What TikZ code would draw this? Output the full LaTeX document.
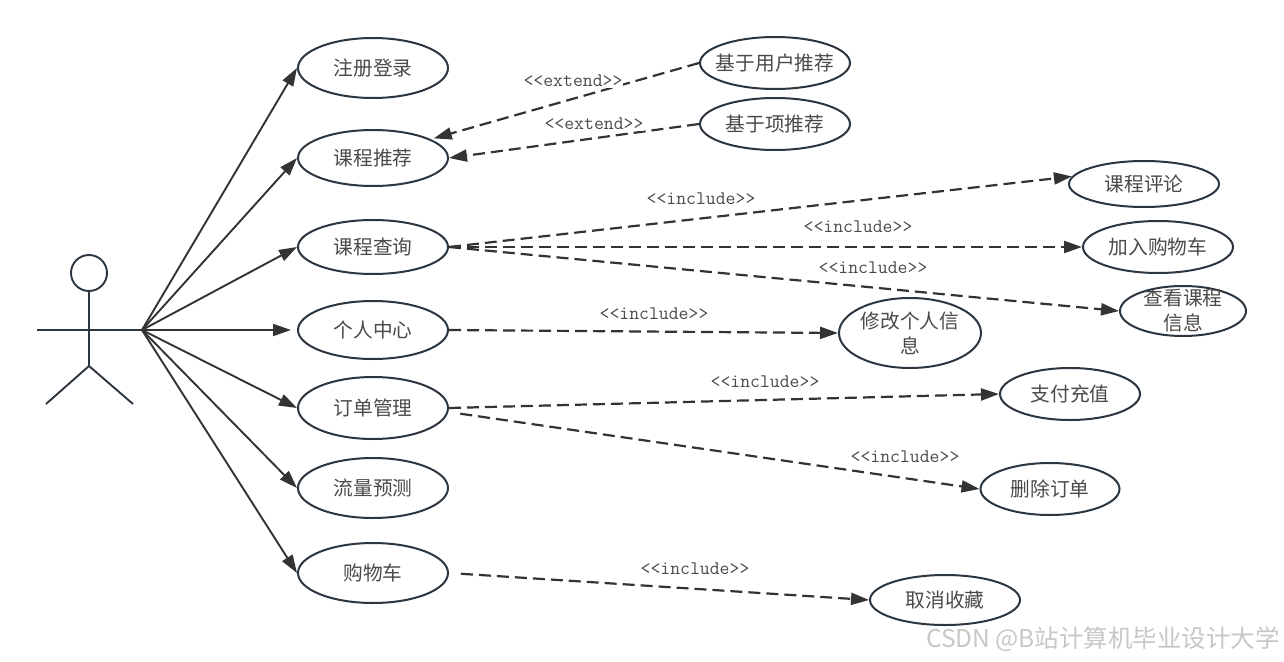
\documentclass[tikz,border=0pt]{standalone}
\usepackage{fontspec}
\usetikzlibrary{arrows.meta,shapes.geometric}
\newfontfamily\cjk{Noto Sans CJK SC}
\definecolor{inkline}{HTML}{2B3640}
\definecolor{arrowink}{HTML}{333333}
\definecolor{labelink}{HTML}{4A4A4A}
\tikzset{
  usecase/.style={ellipse,draw=inkline,line width=2pt,fill=white,inner sep=0pt,minimum width=#1,text=labelink,align=center,font=\cjk\fontsize{19.7}{25}\selectfont},
  assoc/.style={draw=arrowink,line width=1.9pt,-{Triangle[length=18pt,width=12pt]},shorten >=0pt},
  depend/.style={assoc,line width=2.2pt,dash pattern=on 12pt off 6pt},
  stereo/.style={font=\ttfamily\fontsize{19.2}{20}\selectfont,text=labelink,fill=white,inner sep=1pt},
  limb/.style={draw=inkline,line width=1.9pt},
}
\begin{document}
\begin{tikzpicture}[x=1pt,y=-1pt]
\useasboundingbox (0,0) rectangle (1284,661);
% actor
\node[circle,draw=inkline,line width=1.9pt,minimum size=36pt,inner sep=0pt] (head) at (89,273) {};
\coordinate (armL) at (37,330);
\coordinate (hub) at (142,330);
\coordinate (hip) at (89,366);
\coordinate (footL) at (46,404);
\coordinate (footR) at (133,404);
\draw[limb] (head.south) -- (hip);
\draw[limb] (armL) -- (hub);
\draw[limb] (footL) -- (hip) -- (footR);
% use cases
\node[usecase=150pt,minimum height=60pt] (a1) at (373,68) {注册登录};
\node[usecase=150pt,minimum height=56pt] (a2) at (373,158) {课程推荐};
\node[usecase=150pt,minimum height=54pt] (a3) at (373,247) {课程查询};
\node[usecase=150pt,minimum height=58pt] (a4) at (373,330) {个人中心};
\node[usecase=150pt,minimum height=62pt] (a5) at (373,408) {订单管理};
\node[usecase=150pt,minimum height=60pt] (a6) at (373,488) {流量预测};
\node[usecase=150pt,minimum height=60pt] (a7) at (373,573) {购物车};
\node[usecase=150pt,minimum height=52pt] (b1) at (775,63) {\makebox[100pt][c]{基于用户推荐}};
\node[usecase=150pt,minimum height=52pt] (b2) at (775,124) {基于项推荐};
\node[usecase=150pt,minimum height=46pt] (c1) at (1144,184) {课程评论};
\node[usecase=150pt,minimum height=52pt] (c2) at (1158,247) {加入购物车};
\node[usecase=126pt,minimum height=50pt] (c3) at (1183,311) {\smash{\raisebox{-5pt}{\parbox{80pt}{\centering 查看课程\\信息}}}};
\node[usecase=142pt,minimum height=70pt,text width=100pt] (d1) at (910,333) {修改个人信\\息};
\node[usecase=140pt,minimum height=52pt] (e1) at (1070,394) {支付充值};
\node[usecase=139pt,minimum height=52pt] (e2) at (1050,489) {删除订单};
\node[usecase=150pt,minimum height=50pt] (f1) at (945,600) {取消收藏};
% actor associations
\draw[assoc] (hub) -- (a1.west);
\draw[assoc] (hub) -- (a2.west);
\draw[assoc] (hub) -- (a3.west);
\draw[assoc,shorten >=6pt] (hub) -- (a4.west);
\draw[assoc] (hub) -- (a5.west);
\draw[assoc] (hub) -- (a6.west);
\draw[assoc] (hub) -- (a7.west);
% dependencies
\draw[depend,shorten >=3pt] (b1.west) -- (a2.18);
\draw[depend] (b2.west) -- (a2.east);
\draw[depend] (a3.east) -- (c1.174);
\draw[depend] (a3.east) -- (c2.west);
\draw[depend] (a3.east) -- (c3.west);
\draw[depend] (a4.east) -- (d1.west);
\draw[depend] (a5.east) -- (e1.west);
\draw[depend,shorten <=12pt] (a5.-3) -- (e2.west);
\draw[depend,shorten <=12pt] (a7.east) -- (f1.west);
% labels
\node[stereo] (l1) at (573,81) {<<extend>>};
\node[stereo] (l2) at (594,124) {<<extend>>};
\node[stereo] (l3) at (701,199) {<<include>>};
\node[stereo] (l4) at (858,227) {<<include>>};
\node[stereo] (l5) at (873,268) {<<include>>};
\node[stereo] (l6) at (654,314) {<<include>>};
\node[stereo] (l7) at (765,382) {<<include>>};
\node[stereo] (l8) at (905,457) {<<include>>};
\node[stereo] (l9) at (695,569) {<<include>>};
% watermark
\node[text=black!22,inner sep=0pt,font=\cjk\fontsize{24.5}{26}\selectfont] (mark) at (1103,639) {CSDN @B站计算机毕业设计大学};
\end{tikzpicture}
\end{document}
